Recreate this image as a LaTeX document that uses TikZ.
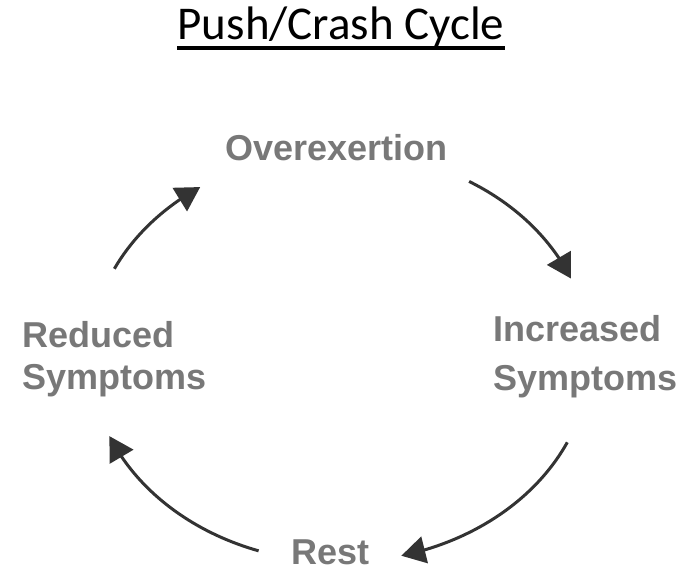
\documentclass[tikz,border=0pt]{standalone}
\usepackage{fontspec}
\setmainfont{Liberation Sans}
\newfontfamily\titlefont{Carlito}
\usetikzlibrary{arrows.meta,bending}
\definecolor{labelgray}{RGB}{120,120,120}
\definecolor{arrowgray}{RGB}{51,51,51}
\begin{document}
\begin{tikzpicture}[x=1pt,y=-1pt,
  lbl/.style={font=\fontsize{36}{42}\selectfont\bfseries, text=labelgray, inner sep=0pt},
  cyc/.style={draw=arrowgray, line width=3pt, -{Triangle[length=24pt,width=27pt]}}]
\useasboundingbox (0,0) rectangle (691,570);
\fill[white] (0,0) rectangle (691,570);
% title
\node[inner sep=0pt, anchor=base, font=\titlefont\fontsize{47}{50}\selectfont] (title) at (341,39) {Push/Crash Cycle};
\draw[line width=3.5pt] ([yshift=-9pt]title.base west) -- ([yshift=-9pt]title.base east);
% labels (base anchor of a multi-line node = baseline of last line)
\node[lbl, anchor=base] (over) at (336.5,160) {Overexertion};
\node[lbl, anchor=base west, align=left] (redu) at (22,389) {Reduced\\Symptoms};
\node[lbl, anchor=base west, align=left] (incr) at (493,390) {Increased\\[7pt]Symptoms};
\node[lbl, anchor=base west] (rest) at (291,564) {Rest};
% cycle arrows on an ellipse
\coordinate (c) at (340,357);
\path (c) ++(-154.5:250 and 205) coordinate (a1s);
\path (c) ++(-58.9:250 and 205) coordinate (a2s);
\path (c) ++(24.6:250 and 205) coordinate (a3s);
\path (c) ++(109:250 and 205) coordinate (a4s);
\draw[cyc] (a1s) arc[start angle=-154.5, end angle=-124, x radius=250, y radius=205];
\draw[cyc] (a2s) arc[start angle=-58.9, end angle=-22.5, x radius=250, y radius=205];
\draw[cyc] (a3s) arc[start angle=24.6, end angle=75.8, x radius=250, y radius=205];
\draw[cyc] (a4s) arc[start angle=109, end angle=157.3, x radius=250, y radius=205];
\end{tikzpicture}
\end{document}
